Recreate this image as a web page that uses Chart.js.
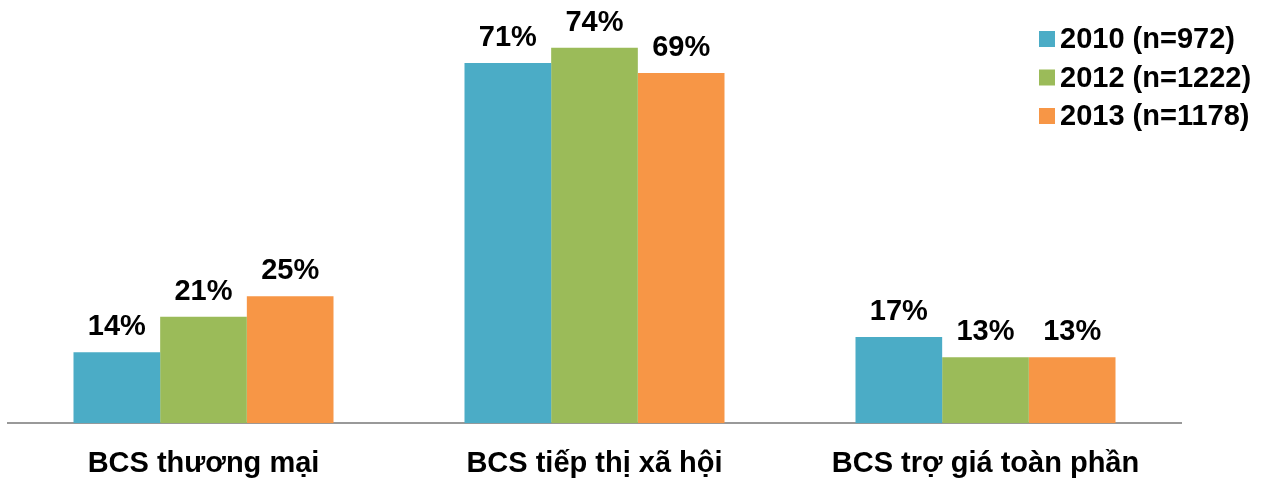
<!DOCTYPE html>
<html>
<head>
<meta charset="utf-8">
<script src="https://cdn.jsdelivr.net/npm/chart.js@4"></script>
<style>
  html, body { margin: 0; padding: 0; background: #fff; }
  #wrap { width: 1265px; height: 478px; position: relative; }
</style>
</head>
<body>
<div id="wrap"><canvas id="myChart"></canvas></div>
<script>
const categories = ["BCS thương mại", "BCS tiếp thị xã hội", "BCS trợ giá toàn phần"];
const seriesNames = ["2010 (n=972)", "2012 (n=1222)", "2013 (n=1178)"];
const values2010 = [14, 71, 17];
const values2012 = [21, 74, 13];
const values2013 = [25, 69, 13];
const colors = ["#4BACC6", "#9BBB59", "#F79646"];

const FONT = "'Liberation Sans', Arial, sans-serif";

// percentage above each bar
const valueLabels = {
  id: "valueLabels",
  afterDatasetsDraw(chart) {
    const ctx = chart.ctx;
    ctx.save();
    ctx.font = "bold 29px " + FONT;
    ctx.fillStyle = "#000";
    ctx.textAlign = "center";
    ctx.textBaseline = "alphabetic";
    chart.data.datasets.forEach((ds, i) => {
      chart.getDatasetMeta(i).data.forEach((bar, j) => {
        ctx.fillText(ds.data[j] + "%", bar.x, bar.y - 17);
      });
    });
    ctx.restore();
  },
};

// legend box in the top right corner
const cornerLegend = {
  id: "cornerLegend",
  afterDraw(chart) {
    const ctx = chart.ctx;
    ctx.save();
    ctx.font = "bold 29px " + FONT;
    ctx.textBaseline = "middle";
    ctx.textAlign = "left";
    chart.data.datasets.forEach((ds, i) => {
      const y = 39 + i * 38.5;
      ctx.fillStyle = ds.backgroundColor;
      ctx.fillRect(1039, y - 8, 16, 16);
      ctx.fillStyle = "#000";
      ctx.fillText(ds.label, 1060, y + 1);
    });
    ctx.restore();
  },
};

const ctx = document.getElementById("myChart");

const data = {
  labels: categories,
  datasets: [
    { label: seriesNames[0], data: values2010, backgroundColor: colors[0] },
    { label: seriesNames[1], data: values2012, backgroundColor: colors[1] },
    { label: seriesNames[2], data: values2013, backgroundColor: colors[2] },
  ],
};

const config = {
  type: "bar",
  data: data,
  options: {
    responsive: true,
    maintainAspectRatio: false,
    animation: false,
    layout: { padding: { left: 8, right: 84, top: 2, bottom: -26 } },
    datasets: {
      bar: { categoryPercentage: 0.665, barPercentage: 1.0, borderWidth: 0 },
    },
    plugins: {
      legend: { display: false },
      tooltip: { enabled: false },
    },
    scales: {
      x: {
        grid: { display: false, drawTicks: false },
        border: { display: true, color: "#999", width: 2 },
        ticks: {
          color: "#000",
          padding: 23,
          font: { family: FONT, size: 29, weight: "bold" },
        },
      },
      y: {
        display: false,
        min: 0,
        max: 83,
      },
    },
  },
  plugins: [valueLabels, cornerLegend],
};

const myChart = new Chart(ctx, config);
</script>
</body>
</html>
